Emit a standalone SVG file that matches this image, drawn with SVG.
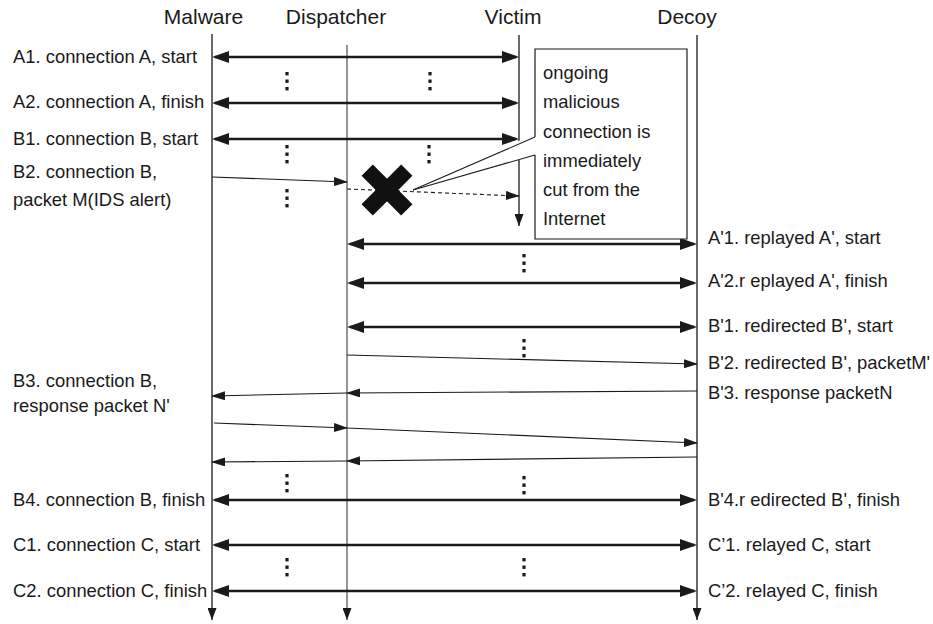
<svg xmlns="http://www.w3.org/2000/svg" width="933" height="624" viewBox="0 0 933 624">
  <style>
    text { font-family: "Liberation Sans", Arial, sans-serif; fill: #1a1a1a; }
    .title { font-size: 21px; text-anchor: middle; }
    .lbl { font-size: 18.4px; }
    .life { stroke: #1a1a1a; stroke-width: 1.3; fill: none; }
    .life-gray { stroke: #7a7a7a; stroke-width: 1.6; fill: none; }
    .thick { stroke: #1a1a1a; stroke-width: 2.6; fill: none; marker-start: url(#bigHead); marker-end: url(#bigHead); }
    .thin { stroke: #1a1a1a; stroke-width: 1.1; fill: none; marker-end: url(#smallHead); }
    .dash { stroke: #1a1a1a; stroke-width: 1.1; fill: none; stroke-dasharray: 4 3; marker-end: url(#smallHead); }
    .dots rect { fill: #1a1a1a; }
  </style>
  <defs>
    <marker id="bigHead" markerUnits="userSpaceOnUse" viewBox="0 0 17 12" refX="14" refY="6" markerWidth="17" markerHeight="12" orient="auto-start-reverse">
      <path d="M0,0 L17,6 L0,12 z" fill="#1a1a1a"/>
    </marker>
    <marker id="smallHead" markerUnits="userSpaceOnUse" viewBox="0 0 14 9" refX="13" refY="4.5" markerWidth="14" markerHeight="9" orient="auto">
      <path d="M0,0 L14,4.5 L0,9 z" fill="#1a1a1a"/>
    </marker>
    <marker id="lifeHead" markerUnits="userSpaceOnUse" viewBox="0 0 12 9" refX="12" refY="4.5" markerWidth="12" markerHeight="9" orient="auto">
      <path d="M0,0 L12,4.5 L0,9 z" fill="#1a1a1a"/>
    </marker>
    <!-- vertical ellipsis: three small squares -->
    <g id="vdots" class="dots">
      <rect x="-1.6" y="0" width="3.2" height="3.4"/>
      <rect x="-1.6" y="7.5" width="3.2" height="3.4"/>
      <rect x="-1.6" y="15" width="3.2" height="3.4"/>
    </g>
  </defs>

  <!-- lifelines -->
  <g id="malware">
    <text class="title" x="203.5" y="24">Malware</text>
    <line class="life" x1="212" y1="34" x2="212" y2="620" marker-end="url(#lifeHead)"/>
  </g>
  <g id="dispatcher">
    <text class="title" x="336" y="24">Dispatcher</text>
    <line class="life-gray" x1="347" y1="45" x2="347" y2="620" marker-end="url(#lifeHead)"/>
  </g>
  <g id="victim">
    <text class="title" x="513" y="24">Victim</text>
    <line class="life" x1="519" y1="35" x2="519" y2="226" marker-end="url(#lifeHead)"/>
  </g>
  <g id="decoy">
    <text class="title" x="687" y="24">Decoy</text>
    <line class="life" x1="697" y1="35" x2="697" y2="620" marker-end="url(#lifeHead)"/>
  </g>

  <!-- message connectors -->
  <g id="connectors">
    <line class="thick" x1="215" y1="57" x2="516" y2="57"/>
    <line class="thick" x1="215" y1="103" x2="516" y2="103"/>
    <line class="thick" x1="215" y1="139" x2="516" y2="139"/>
    <line class="thin" x1="212" y1="177" x2="347" y2="182"/>
    <line class="dash" x1="347" y1="189" x2="519" y2="196"/>

    <line class="thick" x1="350" y1="244" x2="694" y2="244"/>
    <line class="thick" x1="350" y1="283" x2="694" y2="283"/>
    <line class="thick" x1="350" y1="327" x2="694" y2="327"/>
    <line class="thin" x1="347" y1="355" x2="697" y2="364"/>
    <line class="thin" x1="697" y1="391" x2="347" y2="393"/>
    <line class="thin" x1="347" y1="393" x2="212" y2="396"/>
    <line class="thin" x1="214" y1="423" x2="347" y2="428"/>
    <line class="thin" x1="347" y1="428" x2="697" y2="443"/>
    <line class="thin" x1="697" y1="457" x2="347" y2="461"/>
    <line class="thin" x1="347" y1="461" x2="212" y2="462"/>

    <line class="thick" x1="215" y1="500" x2="694" y2="500"/>
    <line class="thick" x1="215" y1="545" x2="694" y2="545"/>
    <line class="thick" x1="215" y1="591" x2="694" y2="591"/>
  </g>

  <!-- continuation marks -->
  <g id="ellipses">
    <use href="#vdots" x="287" y="72"/>
    <use href="#vdots" x="430" y="72"/>
    <use href="#vdots" x="287" y="145"/>
    <use href="#vdots" x="429" y="145"/>
    <use href="#vdots" x="287" y="189"/>
    <use href="#vdots" x="524" y="254"/>
    <use href="#vdots" x="524" y="339"/>
    <use href="#vdots" x="287" y="474"/>
    <use href="#vdots" x="524" y="476"/>
    <use href="#vdots" x="287" y="558"/>
    <use href="#vdots" x="524" y="558"/>
  </g>

  <!-- cut mark on the victim connection -->
  <g id="cut" transform="translate(387 190)">
    <rect x="-28" y="-8" width="56" height="16" fill="#111" transform="rotate(45)"/>
    <rect x="-28" y="-8" width="56" height="16" fill="#111" transform="rotate(-45)"/>
  </g>

  <!-- callout note -->
  <g id="note">
    <polygon points="413,190 536,133 536,155" fill="#fff"/>
    <rect x="535" y="49" width="152" height="190" fill="#fff" stroke="none"/>
    <path d="M535,137 V49 H687 V239 H535 V155" fill="none" stroke="#1a1a1a" stroke-width="1.2"/>
    <line x1="413" y1="190" x2="535" y2="137" stroke="#1a1a1a" stroke-width="1.1"/>
    <line x1="413" y1="190" x2="535" y2="155" stroke="#1a1a1a" stroke-width="1.1"/>
    <text class="lbl" x="543" y="79">ongoing</text>
    <text class="lbl" x="543" y="108">malicious</text>
    <text class="lbl" x="543" y="138">connection is</text>
    <text class="lbl" x="543" y="167">immediately</text>
    <text class="lbl" x="543" y="196">cut from the</text>
    <text class="lbl" x="543" y="225">Internet</text>
  </g>

  <!-- step labels -->
  <g id="labels-left">
    <text class="lbl" x="13" y="63">A1. connection A, start</text>
    <text class="lbl" x="13" y="108">A2. connection A, finish</text>
    <text class="lbl" x="13" y="145">B1. connection B, start</text>
    <text class="lbl" x="13" y="178">B2. connection B,</text>
    <text class="lbl" x="13" y="206">packet M(IDS alert)</text>
    <text class="lbl" x="13" y="387">B3. connection B,</text>
    <text class="lbl" x="13" y="412">response packet N'</text>
    <text class="lbl" x="13" y="506">B4. connection B, finish</text>
    <text class="lbl" x="13" y="551">C1. connection C, start</text>
    <text class="lbl" x="13" y="597">C2. connection C, finish</text>
  </g>
  <g id="labels-right">
    <text class="lbl" x="708" y="244">A'1. replayed A', start</text>
    <text class="lbl" x="708" y="287">A'2.r eplayed A', finish</text>
    <text class="lbl" x="708" y="332">B'1. redirected B', start</text>
    <text class="lbl" x="708" y="369">B'2. redirected B', packetM'</text>
    <text class="lbl" x="708" y="399">B'3. response packetN</text>
    <text class="lbl" x="708" y="506">B'4.r edirected B', finish</text>
    <text class="lbl" x="708" y="551">C’1. relayed C, start</text>
    <text class="lbl" x="708" y="597">C’2. relayed C, finish</text>
  </g>
</svg>
